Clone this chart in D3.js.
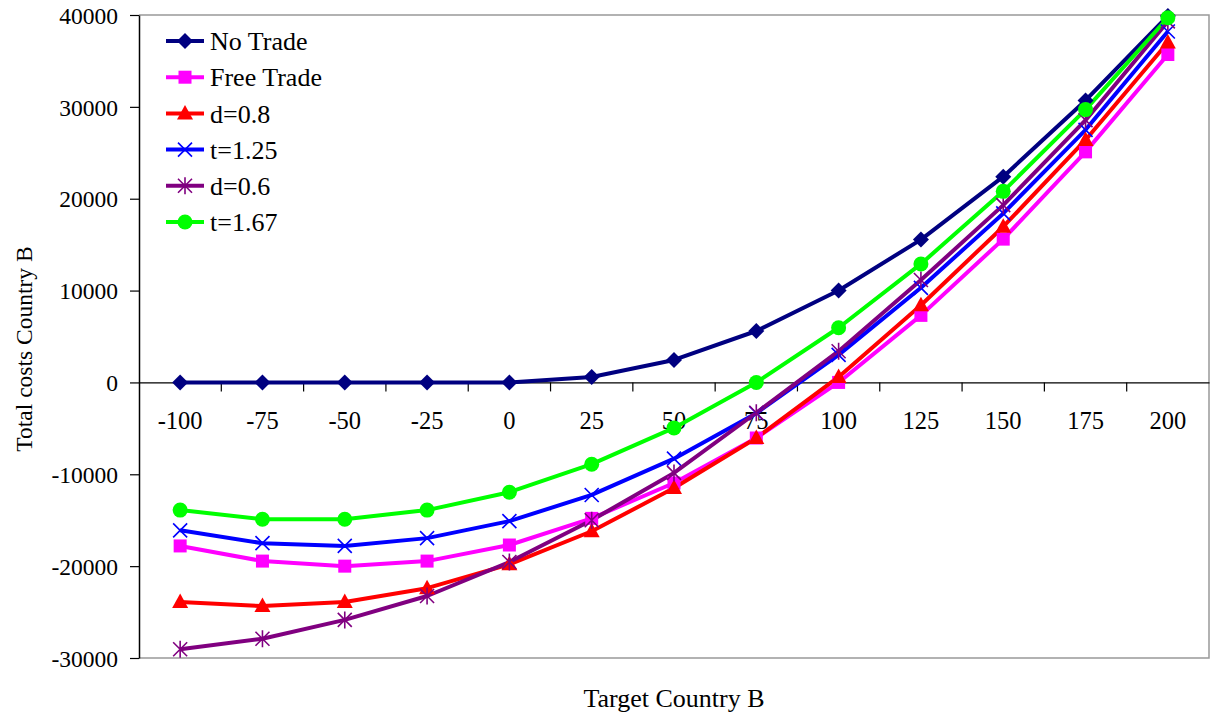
<!DOCTYPE html>
<html><head><meta charset="utf-8">
<script src="https://cdn.jsdelivr.net/npm/d3@7"></script>
<style>body{margin:0;background:#fff}svg{display:block}text{font-family:"Liberation Serif","Times New Roman",serif;fill:#000}</style>
</head><body>
<svg id="c" width="1210" height="718"></svg>
<script>
const categories = ["-100","-75","-50","-25","0","25","50","75","100","125","150","175","200"];
const yTicks = [-30000,-20000,-10000,0,10000,20000,30000,40000];
const noTrade   = [0,0,0,0,0,600,2450,5600,10000,15550,22400,30700,39900];
const freeTrade = [-17800,-19450,-20000,-19450,-17700,-14800,-10950,-6050,0,7300,15600,25100,35700];
const d08       = [-23900,-24350,-23900,-22400,-19800,-16200,-11500,-6050,600,8400,16950,26400,37000];
const t125      = [-16100,-17500,-17800,-16950,-15100,-12250,-8300,-3350,3000,10300,18400,27500,38200];
const d06       = [-29050,-27900,-25850,-23250,-19550,-15000,-9850,-3300,3400,11150,19300,28550,39300];
const t167      = [-13900,-14900,-14900,-13900,-11950,-8900,-4950,0,5950,12900,20800,29700,39700];
const seriesNames = ["No Trade","Free Trade","d=0.8","t=1.25","d=0.6","t=1.67"];

const series = [
  {name:seriesNames[0], values:noTrade,   color:"#000080", marker:"diamond"},
  {name:seriesNames[1], values:freeTrade, color:"#FF00FF", marker:"square"},
  {name:seriesNames[2], values:d08,       color:"#FF0000", marker:"triangle"},
  {name:seriesNames[3], values:t125,      color:"#0000FF", marker:"x"},
  {name:seriesNames[4], values:d06,       color:"#800080", marker:"star"},
  {name:seriesNames[5], values:t167,      color:"#00FF00", marker:"circle"}
];

const svg = d3.select("#c");
const L=139, R=1209, T=15, B=658;
const x = d3.scaleBand().domain(categories).range([L,R]).padding(0);
const y = d3.scaleLinear().domain([-30000,40000]).range([B,T]);
const cx = c => x(c)+x.bandwidth()/2;

svg.append("path").attr("d",`M${L},${T}H${R}V${B}H${L}`).attr("fill","none").attr("stroke","#999").attr("stroke-width",1.5);

const ya = svg.append("g").attr("transform",`translate(${L},0)`)
  .call(d3.axisLeft(y).tickValues(yTicks).tickSize(9).tickSizeOuter(0).tickPadding(12).tickFormat(d=>String(d)));
ya.select(".domain").attr("stroke","#000").attr("stroke-width",1.5);
ya.selectAll(".tick line").attr("stroke","#000").attr("stroke-width",1.2);
ya.selectAll(".tick text").attr("font-size",23.5).attr("font-family","Liberation Serif").attr("dy","0.35em");

const xa = svg.append("g").attr("transform",`translate(0,${y(0)})`)
  .call(d3.axisBottom(x).tickSize(0).tickPadding(29));
xa.select(".domain").attr("stroke","#000").attr("stroke-width",1.2);
xa.selectAll(".tick text").attr("font-size",24.5).attr("font-family","Liberation Serif");
const bounds = categories.slice(1).map(c=>x(c));
xa.selectAll(".bt").data(bounds).enter().append("line")
  .attr("x1",d=>d).attr("x2",d=>d).attr("y1",0).attr("y2",9).attr("stroke","#000").attr("stroke-width",1.2);

function marker(g, type, color){
  if(type==="diamond") g.append("path").attr("d","M0,-8L8,0L0,8L-8,0Z").attr("fill",color);
  else if(type==="square") g.append("rect").attr("x",-6.5).attr("y",-6.5).attr("width",13).attr("height",13).attr("fill",color);
  else if(type==="triangle") g.append("path").attr("d","M0,-8.5L8,6L-8,6Z").attr("fill",color);
  else if(type==="x") g.append("path").attr("d","M-7,-7L7,7M-7,7L7,-7").attr("stroke",color).attr("stroke-width",1.6).attr("fill","none");
  else if(type==="star") g.append("path").attr("d","M-7,-7L7,7M-7,7L7,-7M0,-8.5V8.5").attr("stroke",color).attr("stroke-width",1.6).attr("fill","none");
  else if(type==="circle") g.append("circle").attr("r",7.5).attr("fill",color);
}

const line = d3.line().x((d,i)=>cx(categories[i])).y(d=>y(d));
series.forEach(s=>{
  svg.append("path").datum(s.values).attr("d",line).attr("fill","none")
    .attr("stroke",s.color).attr("stroke-width",4).attr("stroke-linejoin","round");
});
series.forEach(s=>{
  s.values.forEach((v,i)=>{
    const g = svg.append("g").attr("transform",`translate(${cx(categories[i])},${y(v)})`);
    marker(g, s.marker, s.color);
  });
});

const lg = svg.append("g").attr("transform","translate(166,41)");
series.forEach((s,i)=>{
  const r = lg.append("g").attr("transform",`translate(0,${i*36.2})`);
  r.append("line").attr("x1",0).attr("x2",38).attr("y1",0).attr("y2",0).attr("stroke",s.color).attr("stroke-width",4);
  const m = r.append("g").attr("transform","translate(19,0)");
  marker(m, s.marker, s.color);
  r.append("text").attr("x",44).attr("y",0).attr("dy","0.35em").attr("font-size",26).text(s.name);
});

svg.append("text").attr("transform","translate(32,349) rotate(-90)").attr("text-anchor","middle").attr("font-size",23.5).text("Total costs Country B");
svg.append("text").attr("x",674).attr("y",707).attr("text-anchor","middle").attr("font-size",26).text("Target Country B");
</script>
</body></html>
